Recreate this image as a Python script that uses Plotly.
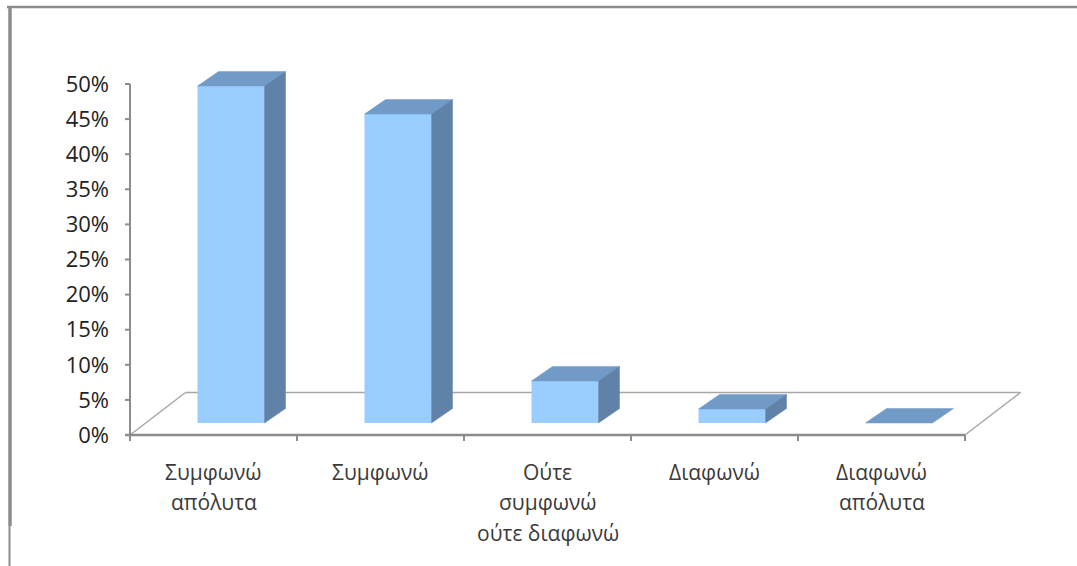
import plotly.graph_objects as go

# Survey answers and their shares (%)
categories = ["Συμφωνώ απόλυτα", "Συμφωνώ", "Ούτε συμφωνώ ούτε διαφωνώ", "Διαφωνώ", "Διαφωνώ απόλυτα"]
label_lines = [["Συμφωνώ", "απόλυτα"], ["Συμφωνώ"], ["Ούτε", "συμφωνώ", "ούτε διαφωνώ"], ["Διαφωνώ"], ["Διαφωνώ", "απόλυτα"]]
shares = [48, 44, 6, 2, 0]
y_ticks = [0, 5, 10, 15, 20, 25, 30, 35, 40, 45, 50]
y_tick_text = [f"{v}%" for v in y_ticks]

# Page geometry
W, H = 1077, 566
ML, MR, MT, MB = 120, 0, 40, 96
PX_X = 167.0      # pixels per category slot
PX_Y = 7.02       # pixels per percentage point
ZERO_PX = 435     # pixel row of 0 %
AXIS_PX = 130     # pixel column of the value axis

plot_w = W - ML - MR
plot_h = H - MT - MB
x_left = -0.5 - (AXIS_PX - ML) / PX_X
x_range = [x_left, x_left + plot_w / PX_X]
y_range = [-(H - MB - ZERO_PX) / PX_Y, (ZERO_PX - MT) / PX_Y]


def paper_x(px):
    return (px - ML) / plot_w


def paper_y(py):
    return (H - MB - py) / plot_h


# 3D look: floor depth, bar lift/shift and bar depth (in axis units)
FLOOR_DX, FLOOR_DY = 55.5 / PX_X, 42.5 / PX_Y
BAR_SHIFT = 17.5 / PX_X
BAR_LIFT = 12.0 / PX_Y
BAR_HALF = 33.5 / PX_X
BAR_DX, BAR_DY = 21.0 / PX_X, 14.5 / PX_Y

FRONT = "#99CCFF"
TOP = "#729AC6"
SIDE = "#6082A8"
GRID = "#8c8c8c"
FLOOR = "#a6a6a6"

n = len(categories)
pos = list(range(n))
x_lo, x_hi = -0.5, n - 0.5

fig = go.Figure()

# front faces of the columns
fig.add_trace(go.Bar(
    x=[p + BAR_SHIFT for p in pos], y=shares, base=BAR_LIFT,
    width=2 * BAR_HALF, marker=dict(color=FRONT, line=dict(width=0)),
    hoverinfo="skip", showlegend=False,
))

# top and side faces
for p, v in zip(pos, shares):
    x0 = p + BAR_SHIFT - BAR_HALF
    x1 = p + BAR_SHIFT + BAR_HALF
    top = BAR_LIFT + v
    fig.add_trace(go.Scatter(
        x=[x0, x1, x1 + BAR_DX, x0 + BAR_DX, x0],
        y=[top, top, top + BAR_DY, top + BAR_DY, top],
        mode="lines", fill="toself", fillcolor=TOP,
        line=dict(color=TOP, width=0.5), hoverinfo="skip", showlegend=False,
    ))
    if v > 0:
        fig.add_trace(go.Scatter(
            x=[x1, x1 + BAR_DX, x1 + BAR_DX, x1, x1],
            y=[BAR_LIFT, BAR_LIFT + BAR_DY, top + BAR_DY, top, BAR_LIFT],
            mode="lines", fill="toself", fillcolor=SIDE,
            line=dict(color=SIDE, width=0.5), hoverinfo="skip", showlegend=False,
        ))

shapes = []
# floor outline
shapes.append(dict(type="line", xref="x", yref="y", layer="below",
                   x0=x_lo + FLOOR_DX, y0=FLOOR_DY, x1=x_hi + FLOOR_DX, y1=FLOOR_DY,
                   line=dict(color=FLOOR, width=1.5)))
shapes.append(dict(type="line", xref="x", yref="y", layer="below",
                   x0=x_lo, y0=0, x1=x_lo + FLOOR_DX, y1=FLOOR_DY,
                   line=dict(color=FLOOR, width=1.5)))
shapes.append(dict(type="line", xref="x", yref="y", layer="below",
                   x0=x_hi, y0=0, x1=x_hi + FLOOR_DX, y1=FLOOR_DY,
                   line=dict(color=FLOOR, width=1.5)))
# category axis with its tick marks
shapes.append(dict(type="line", xref="x", yref="y", layer="below",
                   x0=x_lo - 5 / PX_X, y0=0, x1=x_hi, y1=0,
                   line=dict(color=GRID, width=2.5)))
for k in range(n + 1):
    shapes.append(dict(type="line", xref="x", yref="y", layer="below",
                       x0=x_lo + k, y0=0, x1=x_lo + k, y1=-6 / PX_Y,
                       line=dict(color=GRID, width=2)))
# value axis with its tick marks
shapes.append(dict(type="line", xref="x", yref="y", layer="below",
                   x0=x_lo, y0=0, x1=x_lo, y1=y_ticks[-1],
                   line=dict(color=GRID, width=2)))
for t in y_ticks:
    shapes.append(dict(type="line", xref="x", yref="y", layer="below",
                       x0=x_lo - 5 / PX_X, y0=t, x1=x_lo, y1=t,
                       line=dict(color=GRID, width=2)))
# chart frame (top and left edges)
shapes.append(dict(type="line", xref="paper", yref="paper",
                   x0=paper_x(7), y0=paper_y(7), x1=paper_x(W), y1=paper_y(7),
                   line=dict(color=GRID, width=2.5)))
shapes.append(dict(type="line", xref="paper", yref="paper",
                   x0=paper_x(10), y0=paper_y(6), x1=paper_x(10), y1=paper_y(526),
                   line=dict(color=GRID, width=3.5)))
shapes.append(dict(type="line", xref="paper", yref="paper",
                   x0=paper_x(9.5), y0=paper_y(526), x1=paper_x(9.5), y1=paper_y(H),
                   line=dict(color=GRID, width=2)))

# category labels, one annotation per text line
annotations = []
LINE_START, LINE_STEP = 472, 30.5
for p, lines in zip(pos, label_lines):
    for j, txt in enumerate(lines):
        annotations.append(dict(
            x=p, xref="x", y=paper_y(LINE_START + j * LINE_STEP), yref="paper",
            text=txt, showarrow=False, xanchor="center", yanchor="middle",
            font=dict(family="Open Sans", size=21, color="#3a3a3a"),
        ))

fig.update_layout(
    width=W, height=H,
    margin=dict(l=ML, r=MR, t=MT, b=MB, pad=0),
    paper_bgcolor="white", plot_bgcolor="white",
    showlegend=False,
    xaxis=dict(range=x_range, showgrid=False, zeroline=False, showline=False,
               showticklabels=False, ticks="", fixedrange=True),
    yaxis=dict(range=y_range, showgrid=False, zeroline=False, showline=False,
               tickmode="array", tickvals=y_ticks, ticktext=y_tick_text, ticks="",
               ticklabelstandoff=10,
               tickfont=dict(family="Open Sans", size=22, color="#222222"),
               fixedrange=True),
    shapes=shapes,
    annotations=annotations,
)

fig.write_html("out.html")
